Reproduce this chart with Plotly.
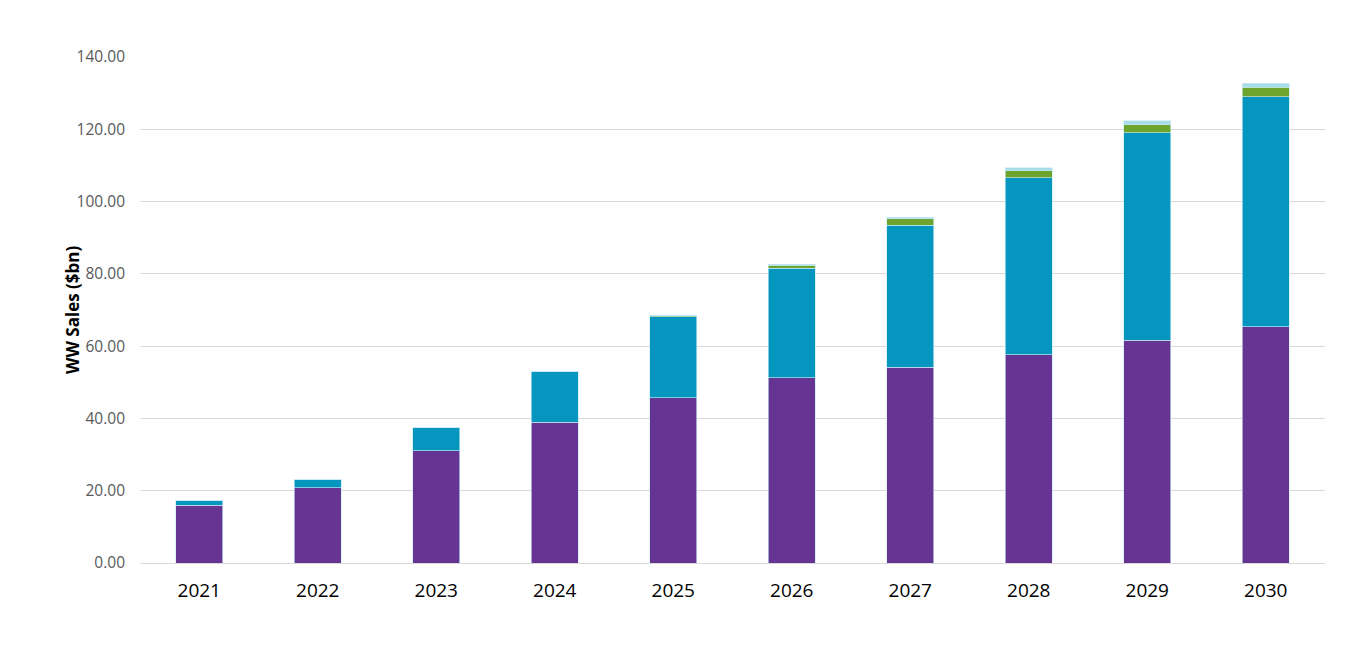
import plotly.graph_objects as go

years = ["2021", "2022", "2023", "2024", "2025", "2026", "2027", "2028", "2029", "2030"]
purple_vals = [16.0, 20.8, 31.0, 39.0, 45.7, 51.2, 54.2, 57.6, 61.7, 65.3]
blue_vals = [1.4, 2.4, 6.4, 14.1, 22.4, 30.4, 39.3, 49.0, 57.4, 63.7]
green_vals = [0.0, 0.0, 0.0, 0.0, 0.3, 0.8, 1.7, 1.9, 2.1, 2.6]
light_vals = [0.0, 0.0, 0.0, 0.0, 0.1, 0.3, 0.5, 0.9, 1.1, 1.1]
y_title = "WW Sales ($bn)"

series = [
    ("Series 1", purple_vals, "#663594"),
    ("Series 2", blue_vals, "#0596C0"),
    ("Series 3", green_vals, "#6CA42E"),
    ("Series 4", light_vals, "#A9DCE9"),
]

fig = go.Figure()
for name, vals, color in series:
    fig.add_trace(go.Bar(
        x=years, y=vals, name=name,
        marker=dict(color=color, line=dict(color="rgba(200,235,245,0.8)", width=0.8)),
    ))

fig.update_layout(
    barmode="stack",
    bargap=0.6,
    width=1338, height=632,
    margin=dict(l=132, r=21, t=49, b=77),
    plot_bgcolor="white", paper_bgcolor="white",
    showlegend=False,
    font=dict(family="Open Sans, sans-serif"),
)
fig.update_yaxes(
    range=[0, 140], dtick=20, tickformat=".2f",
    gridcolor="#D9D9D9", gridwidth=1,
    zeroline=True, zerolinecolor="#D9D9D9", zerolinewidth=1,
    tickfont=dict(size=15.5, color="#595959"),
    ticks="", ticklen=0, ticklabelstandoff=14,
)
fig.update_xaxes(
    tickfont=dict(size=19, color="black"),
    showline=False, ticks="", ticklabelstandoff=14,
)
fig.add_annotation(
    text="<b>" + y_title + "</b>", textangle=-90,
    xref="paper", yref="paper", x=-0.0574, y=0.5,
    xanchor="center", yanchor="middle", showarrow=False,
    font=dict(size=17, color="black"),
)

fig.write_html("out.html")
